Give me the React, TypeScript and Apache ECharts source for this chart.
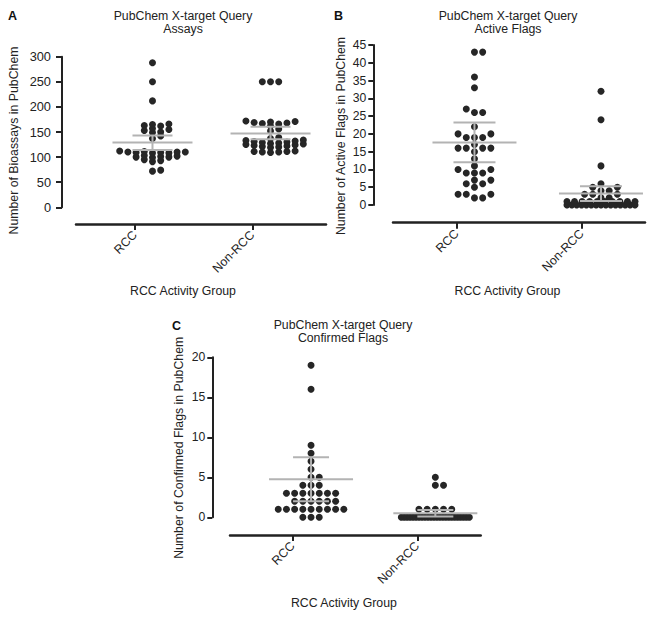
import React, { useEffect, useRef } from "react";
import * as echarts from "echarts";

// ---------- data ----------
const categories = ["RCC", "Non-RCC"];

const assaysRCC = [72, 74, 91, 93, 95, 99, 100, 100, 101, 102, 103, 108, 108, 109, 109, 110, 110, 110, 111, 112, 137, 142, 149, 150, 153, 155, 157, 162, 163, 165, 166, 212, 250, 288];
const assaysNonRCC = [109, 110, 110, 111, 111, 112, 119, 120, 121, 122, 123, 124, 125, 126, 127, 128, 129, 130, 131, 132, 133, 134, 137, 139, 152, 156, 162, 166, 167, 168, 169, 170, 171, 172, 250, 250, 250];
const assaysMean = [129, 147];
const assaysLow = [114, 135.5];
const assaysHigh = [143, 160.5];

const activeRCC = [2, 2, 3, 3, 3, 5, 6, 6, 7, 7, 9, 9, 9, 10, 10, 11, 13, 15, 16, 16, 16, 16, 17, 19, 19, 19, 20, 20, 22, 26, 26, 27, 33, 36, 43, 43];
const activeNonRCC = [0, 0, 0, 0, 0, 0, 0, 0, 0, 0, 0, 0, 0, 0, 0, 1, 1, 1, 1, 1, 1, 1, 1, 1, 1, 2, 2, 3, 3, 3, 4, 4, 5, 5, 6, 11, 24, 32];
const activeMean = [17.6, 3.2];
const activeLow = [12.0, 1.1];
const activeHigh = [23.2, 5.3];

const confirmedRCC = [0, 0, 0, 1, 1, 1, 1, 1, 1, 1, 1, 1, 2, 2, 2, 2, 2, 2, 3, 3, 3, 3, 3, 3, 3, 4, 4, 4, 5, 5, 6, 7, 8, 9, 16, 19];
const confirmedNonRCC = [0, 0, 0, 0, 0, 0, 0, 0, 0, 0, 0, 0, 0, 0, 0, 0, 0, 0, 0, 0, 0, 0, 0, 0, 1, 1, 1, 1, 1, 4, 4, 5];
const confirmedMean = [4.75, 0.5];
const confirmedLow = [2.0, 0.1];
const confirmedHigh = [7.5, 0.9];

const assaysTicks = { max: 300, interval: 50 };
const activeTicks = { max: 45, interval: 5 };
const confirmedTicks = { max: 20, interval: 5 };

// ---------- style / layout ----------
const FONT = "'Liberation Sans', Arial, Helvetica, sans-serif";
const INK = "#222222";
const DOT = "#262626";
const STAT = "#b3b3b3";
const COL_PX = 8.2;
const DOT_SIZE = 7;

const panels = [
  {
    letter: "A", title: "PubChem X-target Query\nAssays", yName: "Number of Bioassays in PubChem",
    groups: [assaysRCC, assaysNonRCC], mean: assaysMean, low: assaysLow, high: assaysHigh, ticks: assaysTicks,
    grid: { left: 76, top: 56.7, width: 250, height: 150.6 },
    yOffset: 14, xOffset: 16.7, tickRange: [-0.503, 1.628], dataRange: [-0.648, 1.47],
    titleX: 183, titleTop: 9, letterX: 8, letterTop: 9, tickFont: 12.8,
    yNameGap: 42, yNameShift: 17, xNameGap: 61, xNameShift: 36, yTickLen: 6, yLabelMargin: 11,
    dv: 4, meanHalf: 40, capHalf: 20,
  },
  {
    letter: "B", title: "PubChem X-target Query\nActive Flags", yName: "Number of Active Flags in PubChem",
    groups: [activeRCC, activeNonRCC], mean: activeMean, low: activeLow, high: activeHigh, ticks: activeTicks,
    grid: { left: 393, top: 45, width: 252, height: 160 },
    yOffset: 19.7, xOffset: 17.7, tickRange: [-0.51, 1.506], dataRange: [-0.644, 1.348],
    titleX: 508, titleTop: 9, letterX: 334, letterTop: 9, tickFont: 12.2,
    yNameGap: 26, yNameShift: 22, xNameGap: 62, xNameShift: 23, yTickLen: 5, yLabelMargin: 7,
    dv: 6, meanHalf: 42, capHalf: 21,
  },
  {
    letter: "C", title: "PubChem X-target Query\nConfirmed Flags", yName: "Number of Confirmed Flags in PubChem",
    groups: [confirmedRCC, confirmedNonRCC], mean: confirmedMean, low: confirmedLow, high: confirmedHigh, ticks: confirmedTicks,
    grid: { left: 230, top: 357.3, width: 250.7, height: 160 },
    yOffset: 17.7, xOffset: 17.7, tickRange: [-0.503, 1.509], dataRange: [-0.652, 1.365],
    titleX: 343, titleTop: 318, letterX: 172, letterTop: 319, tickFont: 12.2,
    yNameGap: 27, yNameShift: 21, xNameGap: 62, xNameShift: 23, yTickLen: 5, yLabelMargin: 7,
    dv: 6, meanHalf: 42, capHalf: 18,
  },
];

// Prism-like column swarm: points sorted by value take the column nearest the
// centre that has no point within dv pixels vertically; very large ties form a
// compressed row of their own.
function swarmOffsets(values: number[], yPx: number, dv: number, maxHalf: number, denseMin: number): number[] {
  const counts = new Map<number, number>();
  values.forEach((v) => counts.set(v, (counts.get(v) || 0) + 1));
  const out = new Array(values.length).fill(0);
  const order = values.map((_, i) => i).sort((a, b) => values[a] - values[b]);
  const denseSeen = new Map<number, number>();
  const placed: { col: number; y: number }[] = [];
  for (const i of order) {
    const v = values[i];
    const n = counts.get(v) as number;
    if (n >= denseMin) {
      const k = denseSeen.get(v) || 0;
      denseSeen.set(v, k + 1);
      const s = Math.min(COL_PX, (2 * maxHalf) / (n - 1));
      out[i] = (k - (n - 1) / 2) * s;
      continue;
    }
    const y = v * yPx;
    for (let step = 0; step < 400; step++) {
      const col = step === 0 ? 0 : step % 2 === 1 ? (step + 1) / 2 : -step / 2;
      if (!placed.some((p) => p.col === col && Math.abs(p.y - y) < dv - 1e-9)) {
        placed.push({ col, y });
        out[i] = col * COL_PX;
        break;
      }
    }
  }
  return out;
}

function buildOption() {
  const grid: any[] = [];
  const xAxis: any[] = [];
  const yAxis: any[] = [];
  const series: any[] = [];
  const title: any[] = [];

  panels.forEach((p, pi) => {
    grid.push({ ...p.grid, containLabel: false, outerBoundsMode: "none" });
    const textBase = { fontFamily: FONT, color: INK, fontSize: 12.3 };

    title.push({
      text: p.letter, left: p.letterX, top: p.letterTop, padding: 0,
      textStyle: { ...textBase, fontSize: 12.5, fontWeight: "bold", color: "#111" },
    });
    title.push({
      text: p.title, left: p.titleX, top: p.titleTop, padding: 0, textAlign: "center",
      textStyle: { ...textBase, fontWeight: "normal", lineHeight: 13.5 },
    });

    // visible category axis (ticks + labels)
    xAxis.push({
      type: "value", gridIndex: pi, min: p.tickRange[0], max: p.tickRange[1],
      position: "bottom", offset: p.xOffset,
      axisLine: { show: true, onZero: false, lineStyle: { color: INK, width: 2.5 } },
      axisTick: { show: true, customValues: [0, 1], length: 6, lineStyle: { color: INK, width: 2 } },
      axisLabel: {
        show: true, customValues: [0, 1], rotate: 45, margin: 9, hideOverlap: false,
        formatter: (v: number) => categories[Math.round(v)] ?? "",
        ...textBase,
      },
      splitLine: { show: false },
      name: "RCC Activity Group", nameLocation: "middle", nameGap: p.xNameGap,
      nameTextStyle: { ...textBase, padding: [0, p.xNameShift, 0, 0] },
    });
    // hidden data axis for the dots
    xAxis.push({
      type: "value", gridIndex: pi, min: p.dataRange[0], max: p.dataRange[1], show: false,
      axisLine: { onZero: false }, splitLine: { show: false },
    });

    yAxis.push({
      type: "value", gridIndex: pi, min: 0, max: p.ticks.max, interval: p.ticks.interval,
      position: "left", offset: p.yOffset,
      axisLine: { show: true, onZero: false, lineStyle: { color: INK, width: 2 } },
      axisTick: { show: true, length: p.yTickLen, lineStyle: { color: INK, width: 2 } },
      axisLabel: { ...textBase, fontSize: p.tickFont, margin: p.yLabelMargin },
      splitLine: { show: false },
      name: p.yName, nameLocation: "middle", nameGap: p.yNameGap,
      nameTextStyle: { ...textBase, padding: [0, p.yNameShift, 0, 0] },
    });

    const yPx = p.grid.height / p.ticks.max;
    const xPx = p.grid.width / (p.dataRange[1] - p.dataRange[0]);
    const dataAxisIndex = pi * 2 + 1;

    p.groups.forEach((vals, gi) => {
      const offs = swarmOffsets(vals, yPx, p.dv, 34, 9);
      series.push({
        type: "scatter", name: `${p.letter}-${categories[gi]}`,
        xAxisIndex: dataAxisIndex, yAxisIndex: pi,
        symbol: "circle", symbolSize: DOT_SIZE,
        itemStyle: { color: DOT, opacity: 1 },
        data: vals.map((v, i) => [gi + offs[i] / xPx, v]),
        z: 2, clip: false,
      });
    });

    const meanHalf = p.meanHalf;
    const capHalf = p.capHalf;
    series.push({
      type: "custom", name: `${p.letter}-stats`,
      xAxisIndex: dataAxisIndex, yAxisIndex: pi,
      dimensions: ["x", "mean", "low", "high"],
      encode: { x: 0, y: 1 },
      data: categories.map((_, gi) => [gi, p.mean[gi], p.low[gi], p.high[gi]]),
      z: 5, clip: false,
      renderItem: (_params: any, api: any) => {
        const x = api.value(0);
        const pm = api.coord([x, api.value(1)]);
        const pl = api.coord([x, api.value(2)]);
        const ph = api.coord([x, api.value(3)]);
        const st = { stroke: STAT, lineWidth: 2 };
        return {
          type: "group",
          children: [
            { type: "line", shape: { x1: pm[0] - meanHalf, y1: pm[1], x2: pm[0] + meanHalf, y2: pm[1] }, style: st },
            { type: "line", shape: { x1: pl[0], y1: pl[1], x2: ph[0], y2: ph[1] }, style: st },
            { type: "line", shape: { x1: ph[0] - capHalf, y1: ph[1], x2: ph[0] + capHalf, y2: ph[1] }, style: st },
            { type: "line", shape: { x1: pl[0] - capHalf, y1: pl[1], x2: pl[0] + capHalf, y2: pl[1] }, style: st },
          ],
        };
      },
    });
  });

  return {
    animation: false,
    backgroundColor: "#ffffff",
    textStyle: { fontFamily: FONT },
    title, grid, xAxis, yAxis, series,
  };
}

export default function App() {
  const ref = useRef<HTMLDivElement>(null);
  useEffect(() => {
    if (!ref.current) return;
    const chart = echarts.init(ref.current, undefined, { renderer: "svg" });
    chart.setOption(buildOption() as any);
    return () => chart.dispose();
  }, []);
  return (
    <div
      ref={ref}
      style={{ position: "absolute", left: 0, top: 0, width: 654, height: 619, background: "#fff" }}
    />
  );
}
